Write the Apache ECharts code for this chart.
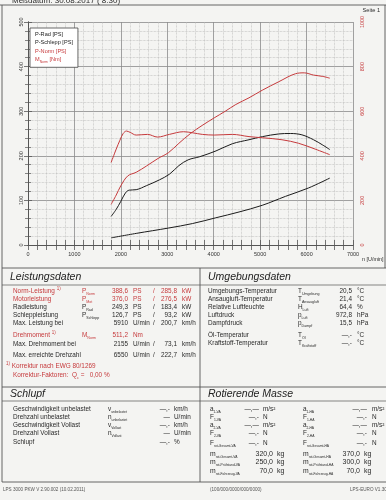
<!DOCTYPE html>
<html>
<head>
<meta charset="utf-8">
<script src="https://cdn.jsdelivr.net/npm/echarts@6/dist/echarts.min.js"></script>
<style>
html,body{margin:0;padding:0;background:#f4f4f2;}
#c{width:386px;height:500px;}
</style>
</head>
<body>
<div id="c"></div>
<script>
// ---------- chart data ----------
const rpmTicks = [0, 1000, 2000, 3000, 4000, 5000, 6000, 7000];
const psTicks = [0, 100, 200, 300, 400, 500];
const nmTicks = [0, 200, 400, 600, 800, 1000];

const rpmRad = [1790, 1900, 2000, 2100, 2180, 2330, 2550, 2830, 3050, 3250, 3450, 3700, 4050, 4400, 4760, 5050, 5400, 5650, 5900, 6150, 6350, 6500];
const pRad   = [64, 80, 98, 117, 123, 124, 133, 146, 159, 178, 191, 198, 211, 227, 236, 243, 249, 250, 247, 236, 224, 214];

const rpmSchlepp = [1790, 2330, 3025, 3540, 4045, 4545, 5045, 5545, 6045, 6500];
const pSchlepp   = [16, 26, 38, 48, 61, 74, 89, 109, 128, 150];

const rpmNorm = [1790, 1900, 2000, 2150, 2330, 2550, 2800, 3025, 3250, 3500, 3750, 4010, 4250, 4475, 4760, 5045, 5400, 5760, 5950, 6150, 6350, 6500];
const pNorm   = [91, 112, 133, 155, 163, 177, 194, 207, 228, 250, 268, 285, 300, 315, 330, 347, 366, 384, 386, 381, 378, 374];

const rpmTorque = [1790, 1900, 1980, 2050, 2120, 2200, 2330, 2575, 2790, 3045, 3350, 3550, 3755, 4010, 4400, 4760, 5045, 5470, 5830, 6185, 6500];
const mNorm     = [370, 430, 470, 500, 511, 505, 493, 496, 484, 496, 508, 503, 496, 493, 496, 486, 481, 472, 456, 430, 405];

const seriesNames = ['P-Rad [PS]', 'P-Schlepp [PS]', 'P-Norm [PS]', 'M_Norm [Nm]'];

// ---------- table texts ----------
const leistungRows = [
  ['{b|Norm-Leistung }{u|1)}', 'P', 'Norm', '388,6', 'PS', '285,8', 'kW', 1],
  ['{b|Motorleistung}', 'P', 'Mot', '376,0', 'PS', '276,5', 'kW', 1],
  ['{b|Radleistung}', 'P', 'Rad', '249,3', 'PS', '183,4', 'kW', 0],
  ['{b|Schleppleistung}', 'P', 'Schlepp', '126,7', 'PS', '93,2', 'kW', 0],
  ['{b|Max. Leistung bei}', '', '', '5910', 'U/min', '200,7', 'km/h', 0],
  ['{b|Drehmoment }{u|1)}', 'M', 'Norm', '511,2', 'Nm', '', '', 1],
  ['{b|Max. Drehmoment bei}', '', '', '2155', 'U/min', '73,1', 'km/h', 0],
  ['{b|Max. erreichte Drehzahl}', '', '', '6550', 'U/min', '222,7', 'km/h', 0]
];
const umgebungRows = [
  ['Umgebungs-Temperatur', 'T', 'Umgebung', '20,5', '°C'],
  ['Ansaugluft-Temperatur', 'T', 'Ansaugluft', '21,4', '°C'],
  ['Relative Luftfeuchte', 'H', 'Luft', '64,4', '%'],
  ['Luftdruck', 'p', 'Luft', '972,8', 'hPa'],
  ['Dampfdruck', 'p', 'Dampf', '15,5', 'hPa'],
  ['Öl-Temperatur', 'T', 'Öl', '—,-', '°C'],
  ['Kraftstoff-Temperatur', 'T', 'Kraftstoff', '—,-', '°C']
];
const schlupfRows = [
  ['Geschwindigkeit unbelastet', 'v', 'unbelastet', '—,-', 'km/h'],
  ['Drehzahl unbelastet', 'n', 'unbelastet', '—', 'U/min'],
  ['Geschwindigkeit Vollast', 'v', 'Vollast', '—,-', 'km/h'],
  ['Drehzahl Vollast', 'n', 'Vollast', '—', 'U/min'],
  ['Schlupf', '', '', '—,-', '%']
];
const masseVA = [
  ['a', '1-VA', '—,—', 'm/s²'], ['F', '1-VA', '—,-', 'N'], ['a', '2-VA', '—,—', 'm/s²'],
  ['F', '2-VA', '—,-', 'N'], ['F', 'rot-Gesamt-VA', '—,-', 'N'],
  ['m', 'rot-Gesamt-VA', '320,0', 'kg'], ['m', 'rot-Prüfstand-VA', '250,0', 'kg'], ['m', 'rot-Fahrzeug-VA', '70,0', 'kg']
];
const masseHA = [
  ['a', '1-HA', '—,—', 'm/s²'], ['F', '1-HA', '—,-', 'N'], ['a', '2-HA', '—,—', 'm/s²'],
  ['F', '2-HA', '—,-', 'N'], ['F', 'rot-Gesamt-HA', '—,-', 'N'],
  ['m', 'rot-Gesamt-HA', '370,0', 'kg'], ['m', 'rot-Prüfstand-HA', '300,0', 'kg'], ['m', 'rot-Fahrzeug-HA', '70,0', 'kg']
];

// ---------- styling ----------
const FONT = '"Liberation Sans", Arial, sans-serif';
const RED = '#c63a3c';
const BLACK = '#1c1c1c';
const TXT = '#2a2a2a';
const LINE = '#555';
const FS = 6.4;

function zip(a, b) { return a.map((v, i) => [v, b[i]]); }

function richDef(color, size, subSize) {
  return {
    b: { fontSize: size, fontFamily: FONT, fill: color, color: color, lineHeight: 9 },
    s: { fontSize: subSize || size * 0.62, fontFamily: FONT, fill: color, color: color, lineHeight: 4, verticalAlign: 'bottom' },
    u: { fontSize: size * 0.7, fontFamily: FONT, fill: color, color: color, lineHeight: 4, verticalAlign: 'top' }
  };
}
function T(x, y, text, o) {
  o = o || {};
  const size = o.size || FS;
  return {
    type: 'text', x: x, y: y, silent: true,
    style: {
      text: text, fill: o.color || TXT,
      font: (o.italic ? 'italic ' : '') + size + 'px ' + FONT,
      align: o.align || 'left', verticalAlign: 'middle'
    }
  };
}
function R(x, y, markup, color, size, subSize) {
  size = size || FS;
  return {
    type: 'text', x: x, y: y, silent: true,
    style: {
      text: markup, fill: color || TXT, font: size + 'px ' + FONT,
      align: 'left', verticalAlign: 'middle', rich: richDef(color || TXT, size, subSize)
    }
  };
}
function L(x1, y1, x2, y2, w) {
  return { type: 'line', silent: true, shape: { x1: x1, y1: y1, x2: x2, y2: y2 }, style: { stroke: LINE, lineWidth: w || 0.9 } };
}

const g = [];
// frame lines
g.push(L(0, 5, 386, 5));
g.push(L(2, 5, 2, 482));
g.push(L(385, 5, 385, 268));
g.push(L(2, 268, 386, 268));
g.push(L(2, 285, 386, 285, 0.7));
g.push(L(200, 268, 200, 482));
g.push(L(2, 387, 386, 387));
g.push(L(2, 401, 386, 401, 0.7));
g.push(L(2, 482, 386, 482));

// header / footer
g.push(T(12, 0.5, 'Meßdatum: 30.08.2017 ( 8:30)', { size: 8 }));
g.push(T(380, 10, 'Seite 1', { size: 5.6, align: 'right' }));
g.push(T(362, 260, 'n [U/min]', { size: 5.4 }));
g.push(T(3, 490, 'LPS 3000 PKW V 2.90.002 (10.02.2011)', { size: 4.6, color: '#555' }));
g.push(T(210, 490, '(100/000/0000/000/0000)', { size: 4.6, color: '#555' }));
g.push(T(350, 490, 'LPS-EURO V1.30', { size: 4.6, color: '#555' }));

// section headers
g.push(T(10, 277, 'Leistungsdaten', { size: 10.5, italic: true, color: '#222' }));
g.push(T(208, 277, 'Umgebungsdaten', { size: 10.5, italic: true, color: '#222' }));
g.push(T(10, 394, 'Schlupf', { size: 10.5, italic: true, color: '#222' }));
g.push(T(208, 394, 'Rotierende Masse', { size: 10.5, italic: true, color: '#222' }));

// Leistungsdaten
const leistY = [291, 299, 307, 315, 323, 335, 344, 355];
leistungRows.forEach((r, i) => {
  const y = leistY[i];
  const c = r[7] ? RED : TXT;
  g.push(R(13, y, r[0], c));
  if (r[1]) g.push(R(82, y, '{b|' + r[1] + '}{s|' + r[2] + '}', c, FS, 3.6));
  g.push(T(128, y, r[3], { color: c, align: 'right' }));
  g.push(T(133, y, r[4], { color: c }));
  if (r[5]) {
    g.push(T(154, y, '/', { color: c, align: 'center' }));
    g.push(T(177, y, r[5], { color: c, align: 'right' }));
    g.push(T(182, y, r[6], { color: c }));
  }
});
g.push(R(6, 366, '{u|1)} {b|Korrektur nach EWG 80/1269}', RED));
g.push(R(13, 375, '{b|Korrektur-Faktoren:  Q}{s|c}{b| =   0,00 %}', RED));

// Umgebungsdaten
const umgY = [291, 299, 307, 315, 323, 335, 343];
umgebungRows.forEach((r, i) => {
  const y = umgY[i];
  g.push(T(208, y, r[0]));
  g.push(R(298, y, '{b|' + r[1] + '}{s|' + r[2] + '}', TXT, FS, 3.6));
  g.push(T(352, y, r[3], { align: 'right' }));
  g.push(T(357, y, r[4]));
});

// Schlupf
const schY = [409, 417, 425, 433, 442];
schlupfRows.forEach((r, i) => {
  const y = schY[i];
  g.push(T(13, y, r[0]));
  if (r[1]) g.push(R(108, y, '{b|' + r[1] + '}{s|' + r[2] + '}', TXT, FS, 3.4));
  g.push(T(170, y, r[3], { align: 'right' }));
  g.push(T(174, y, r[4]));
});

// Rotierende Masse
const masY = [409, 417, 425, 433, 443, 454, 462, 471];
masseVA.forEach((r, i) => {
  const y = masY[i];
  const big = r[0] === 'm';
  g.push(R(210, y, '{b|' + r[0] + '}{s|' + r[1] + '}', TXT, big ? 6.8 : FS, 3.3));
  g.push(T(big ? 273 : 259, y, r[2], { align: 'right', size: big ? 7 : FS }));
  g.push(T(big ? 277 : 263, y, r[3], { size: big ? 7 : FS }));
});
masseHA.forEach((r, i) => {
  const y = masY[i];
  const big = r[0] === 'm';
  g.push(R(303, y, '{b|' + r[0] + '}{s|' + r[1] + '}', TXT, big ? 6.8 : FS, 3.3));
  g.push(T(big ? 360 : 367, y, r[2], { align: 'right', size: big ? 7 : FS }));
  g.push(T(big ? 364 : 372, y, r[3], { size: big ? 7 : FS }));
});

// ---------- chart ----------
const axisTxt = { fontSize: 5.5, fontFamily: FONT, color: '#333', formatter: function (v) { return String(v); } };
const chart = echarts.init(document.getElementById('c'), null, { renderer: 'canvas' });
chart.setOption({
  animation: false,
  backgroundColor: '#f4f4f2',
  textStyle: { fontFamily: FONT },
  grid: { left: 28, right: 33, top: 22, bottom: 255 },
  legend: {
    orient: 'vertical', left: 30, top: 28, selectedMode: false,
    itemWidth: 0, itemHeight: 6, itemGap: 2.6,
    padding: [3, 5, 4, 0],
    backgroundColor: '#fff', borderColor: '#444', borderWidth: 0.8,
    textStyle: { fontSize: 5.6, color: BLACK, fontFamily: FONT },
    formatter: function (name) { return name === 'M_Norm [Nm]' ? '{m|M}{s|Norm}{m| [Nm]}' : name; },
    data: [
      { name: seriesNames[0], icon: 'rect', textStyle: { color: BLACK } },
      { name: seriesNames[1], icon: 'rect', textStyle: { color: BLACK } },
      { name: seriesNames[2], icon: 'rect', textStyle: { color: RED } },
      { name: seriesNames[3], icon: 'rect', textStyle: { color: RED,
        rich: { m: { fontSize: 5.6, color: RED, lineHeight: 7 }, s: { fontSize: 3.4, color: RED, lineHeight: 3, verticalAlign: 'bottom' } } } }
    ]
  },
  xAxis: [{
    type: 'value', min: rpmTicks[0], max: rpmTicks[rpmTicks.length - 1], interval: 1000, position: 'bottom',
    axisLine: { show: true, lineStyle: { color: LINE, width: 1 } },
    axisTick: { show: true, inside: true, length: 5, lineStyle: { color: LINE, width: 0.8 } },
    minorTick: { show: true, splitNumber: 5, length: 5, lineStyle: { color: LINE, width: 0.8 } },
    axisLabel: Object.assign({ margin: 6 }, axisTxt),
    splitLine: { show: true, lineStyle: { color: '#8a8a8a', width: 0.8 } },
    minorSplitLine: { show: true, lineStyle: { color: '#b8b8b8', width: 0.7, type: 'dotted' } }
  }, {
    type: 'value', min: rpmTicks[0], max: rpmTicks[rpmTicks.length - 1], interval: 1000, position: 'top',
    axisLine: { show: true, lineStyle: { color: LINE, width: 1 } },
    axisTick: { show: true, inside: true, length: 5, lineStyle: { color: LINE, width: 0.8 } },
    minorTick: { show: true, splitNumber: 5, length: 5, lineStyle: { color: LINE, width: 0.8 } },
    axisLabel: { show: false }, splitLine: { show: false }
  }],
  yAxis: [{
    type: 'value', min: psTicks[0], max: psTicks[psTicks.length - 1], interval: 100, position: 'left',
    axisLine: { show: true, lineStyle: { color: LINE, width: 1 } },
    axisTick: { show: true, inside: true, length: 4, lineStyle: { color: LINE, width: 0.8 } },
    minorTick: { show: true, splitNumber: 5, length: 3, lineStyle: { color: LINE, width: 0.7 } },
    axisLabel: Object.assign({ rotate: 90, margin: 4 }, axisTxt),
    splitLine: { show: true, lineStyle: { color: '#8a8a8a', width: 0.8 } },
    minorSplitLine: { show: true, lineStyle: { color: '#b8b8b8', width: 0.7, type: 'dotted' } }
  }, {
    type: 'value', min: nmTicks[0], max: nmTicks[nmTicks.length - 1], interval: 200, position: 'right',
    axisLine: { show: true, lineStyle: { color: LINE, width: 1 } },
    axisTick: { show: true, inside: true, length: 4, lineStyle: { color: LINE, width: 0.8 } },
    minorTick: { show: true, splitNumber: 5, length: 3, lineStyle: { color: LINE, width: 0.7 } },
    axisLabel: Object.assign({ rotate: 90, margin: 6 }, axisTxt, { color: RED }),
    splitLine: { show: false }
  }],
  series: [
    { name: seriesNames[0], type: 'line', data: zip(rpmRad, pRad), smooth: 0.35, symbol: 'none',
      lineStyle: { color: BLACK, width: 1 }, itemStyle: { color: BLACK } },
    { name: seriesNames[1], type: 'line', data: zip(rpmSchlepp, pSchlepp), smooth: 0.35, symbol: 'none',
      lineStyle: { color: BLACK, width: 1 }, itemStyle: { color: BLACK } },
    { name: seriesNames[2], type: 'line', data: zip(rpmNorm, pNorm), smooth: 0.35, symbol: 'none',
      lineStyle: { color: RED, width: 1 }, itemStyle: { color: RED } },
    { name: seriesNames[3], type: 'line', yAxisIndex: 1, data: zip(rpmTorque, mNorm), smooth: 0.35, symbol: 'none',
      lineStyle: { color: RED, width: 1 }, itemStyle: { color: RED } }
  ],
  graphic: { elements: g }
});
</script>
</body>
</html>
